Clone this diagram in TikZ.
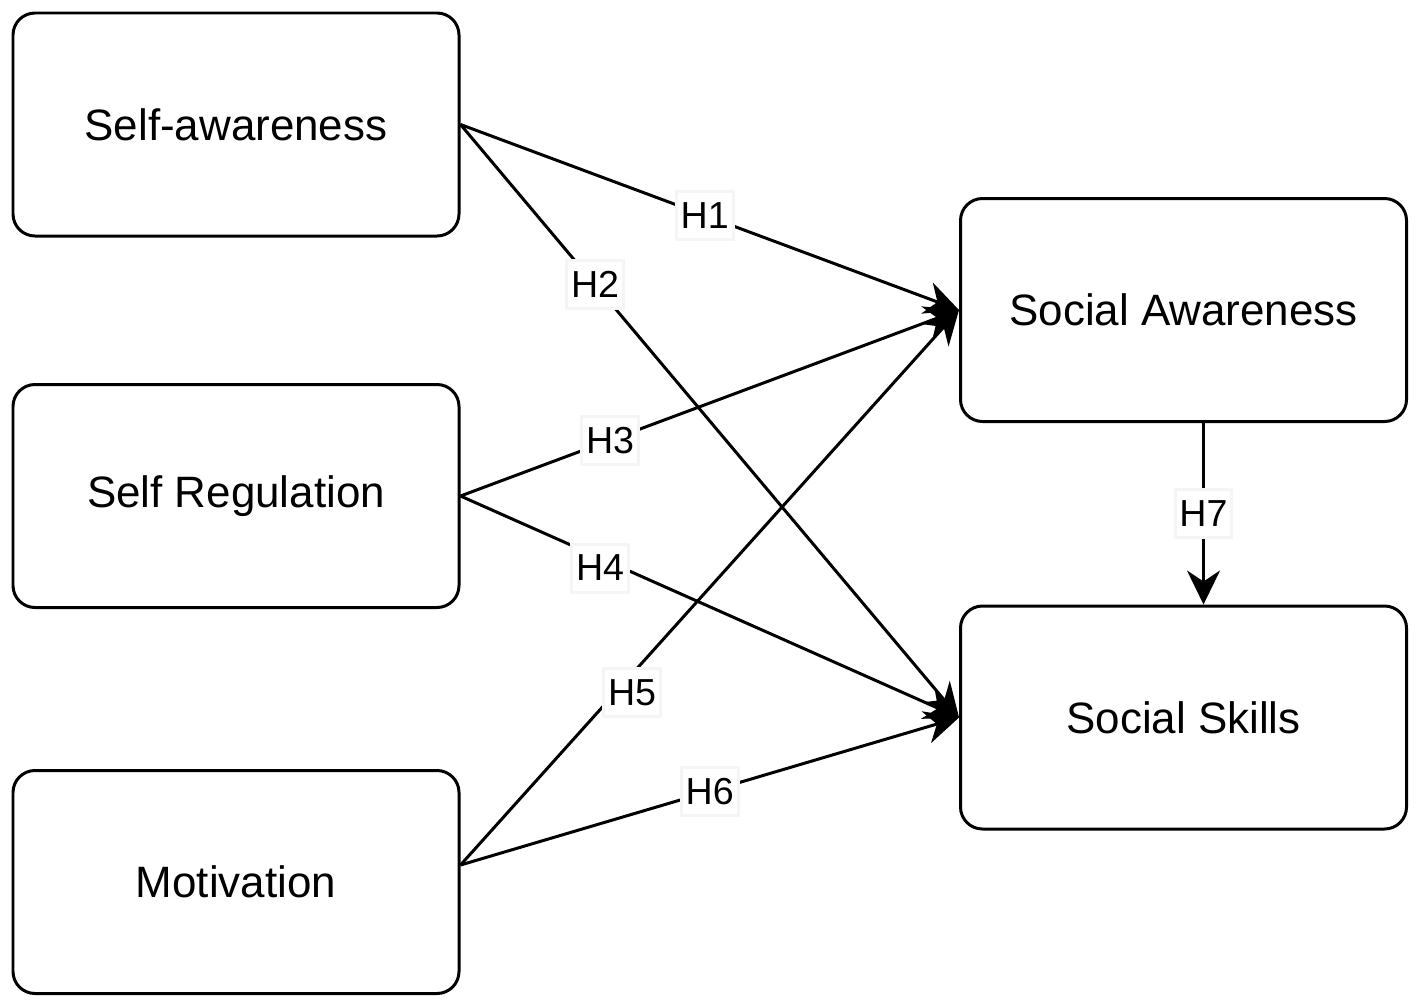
\documentclass[tikz,border=0pt]{standalone}
\usepackage{fontspec}
\setmainfont{Liberation Sans}
\usetikzlibrary{arrows.meta}
\tikzset{
  construct/.style={draw, line width=0.85pt, rounded corners=0.22cm,
    minimum width=4.46cm, minimum height=2.23cm, font=\fontsize{12.5}{15}\selectfont},
  hyp/.style={fill=white, draw=black!4, inner sep=1.2pt, minimum height=0.48cm,
    font=\fontsize{10.7}{13}\selectfont},
  path/.style={line width=0.85pt, -{Stealth[length=3.4mm, width=3.3mm, inset=1.1mm]}}
}
\begin{document}
\begin{tikzpicture}
      \useasboundingbox (0,0) rectangle (14.18,-10.07);
      \node[construct] (saw) at (2.36,-1.245) {Self-awareness};
      \node[construct] (sreg) at (2.36,-4.96) {Self Regulation};
      \node[construct] (mot) at (2.36,-8.82) {Motivation};
      \node[construct] (soaw) at (11.835,-3.10) {Social Awareness};
      \node[construct] (sosk) at (11.835,-7.175) {Social Skills};
      \begin{scope}[path]
        \draw (saw.east) to node[hyp, pos=0.49] {H1} (soaw.west);
        \draw (saw.east) to node[hyp, pos=0.27] {H2} (sosk.west);
        \draw (sreg.east) to node[hyp, pos=0.30] {H3} (soaw.west);
        \draw (sreg.east) to node[hyp, pos=0.28, yshift=-0.1cm] {H4} (sosk.west);
        \draw ([yshift=1.7mm]mot.east) to node[hyp, pos=0.31, xshift=0.17cm] {H5} (soaw.west);
        \draw ([yshift=1.7mm]mot.east) to node[hyp, pos=0.50] {H6} (sosk.west);
        \draw ([xshift=2mm]soaw.south) to node[hyp, pos=0.50] {H7} ([xshift=2mm]sosk.north);
      \end{scope}
    \end{tikzpicture}
\end{document}
